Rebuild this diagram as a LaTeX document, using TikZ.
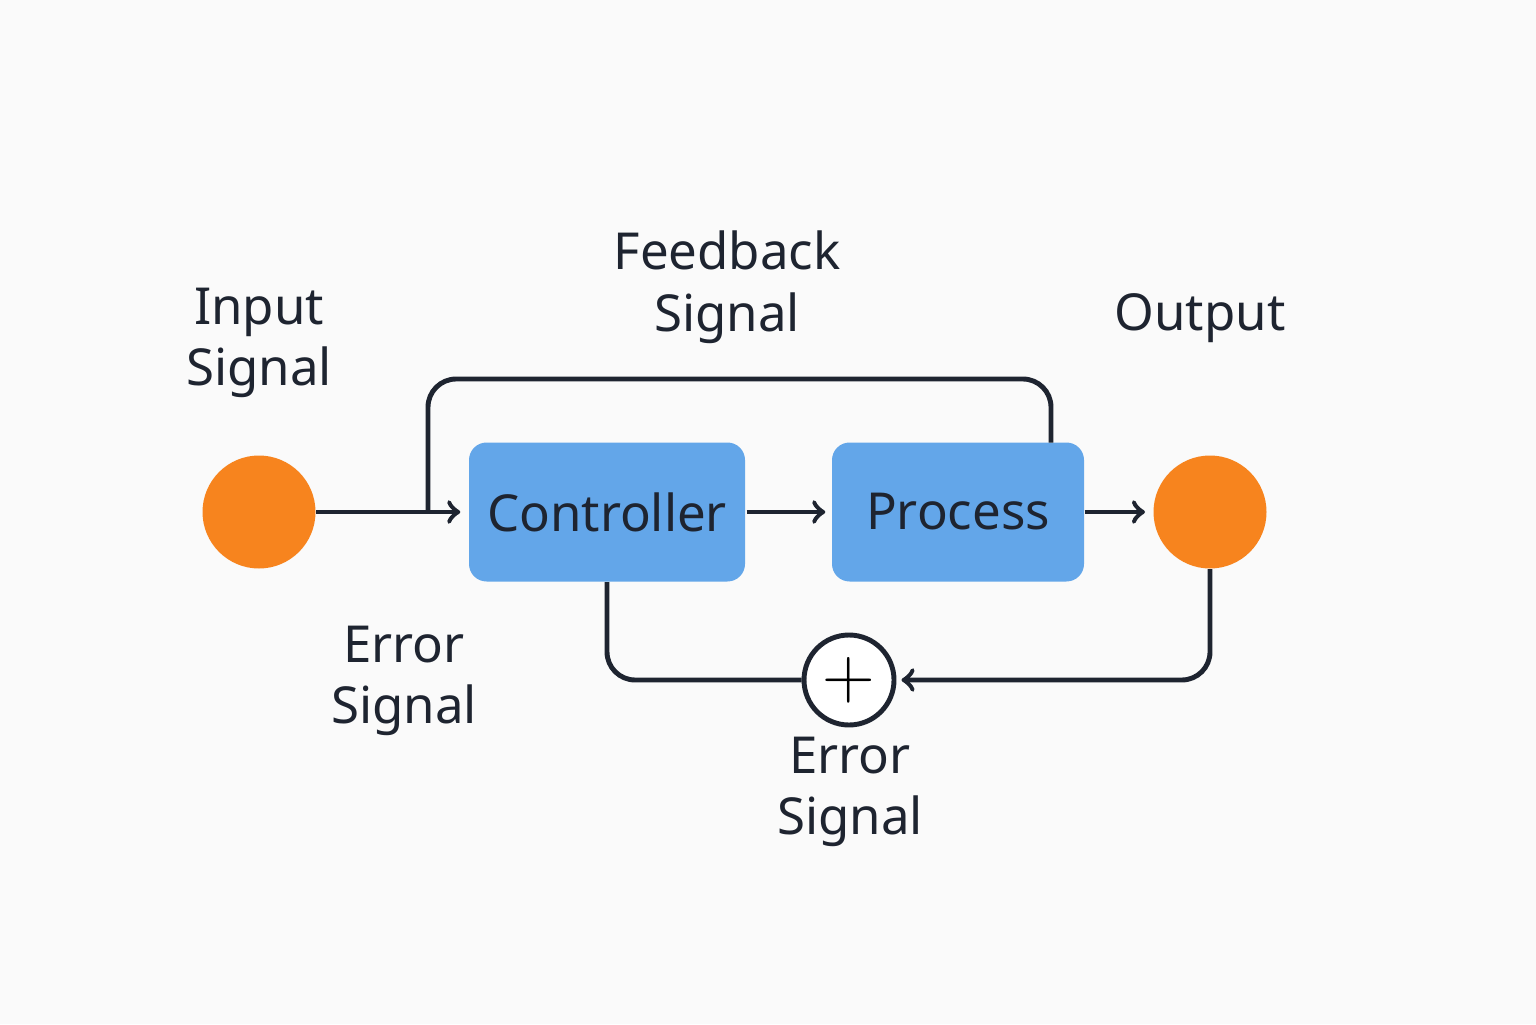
\documentclass[tikz,border=0pt]{standalone}
\usepackage{fontspec}
\setmainfont{Noto Sans}
\usetikzlibrary{positioning}
\definecolor{dotorange}{HTML}{F7841E}
\definecolor{boxblue}{HTML}{63A6E9}
\definecolor{wire}{HTML}{1E2430}
\definecolor{paper}{HTML}{FAFAFA}

\begin{document}
\begin{tikzpicture}[x=1cm,y=1cm,
    box/.style={rectangle, rounded corners=5pt, fill=boxblue, minimum height=1.39cm, text=wire, font=\fontsize{14.5}{17}\selectfont\bfseries},
    dot/.style={circle, fill=dotorange, minimum size=1.13cm, inner sep=0pt},
    lbl/.style={align=center, text=wire, font=\fontsize{14.5}{17.5}\selectfont\bfseries}]
  \fill[paper] (0,0) rectangle (15.36,10.24);
  \useasboundingbox (0,0) rectangle (15.36,10.24);

  \node[dot] (in) at (2.59,5.12) {};
  \node[box, minimum width=2.76cm] (ctrl) at (6.07,5.12) {Controller};
  \node[box, minimum width=2.52cm] (proc) at (9.58,5.12) {Process};
  \node[dot] (out) at (12.10,5.12) {};
  \node[circle, draw=wire, line width=1.4pt, fill=white, minimum size=0.9cm, inner sep=0pt] (sum) at (8.49,3.44) {\fontsize{20}{20}\selectfont$+$};
  \coordinate (split) at (4.28,5.12);
  \coordinate (outend) at (11.45,5.12);

  \begin{scope}[->, >=to, line width=1.4pt, draw=wire, rounded corners=8pt]
    \draw (in) -- ([xshift=-0.08cm]ctrl.west);
    \draw ([xshift=0.01cm]ctrl.east) -- ([xshift=-0.06cm]proc.west);
    \draw (proc.east) -- (outend);
    \draw[-] (split) |- (5.5,6.45) -| (10.51,5.815);
    \draw (out.south) |- ([xshift=0.05cm]sum.east);
    \draw[-] (ctrl.south) |- (sum.west);
  \end{scope}

  \node[lbl] at (2.59,6.81) {Input\\Signal};
  \node[lbl] at (7.27,7.37) {Feedback\\Signal};
  \node[lbl] at (12.00,7.06) {Output};
  \node[lbl] at (4.04,3.43) {Error\\Signal};
  \node[lbl] at (8.50,2.32) {Error\\Signal};
\end{tikzpicture}
\end{document}
